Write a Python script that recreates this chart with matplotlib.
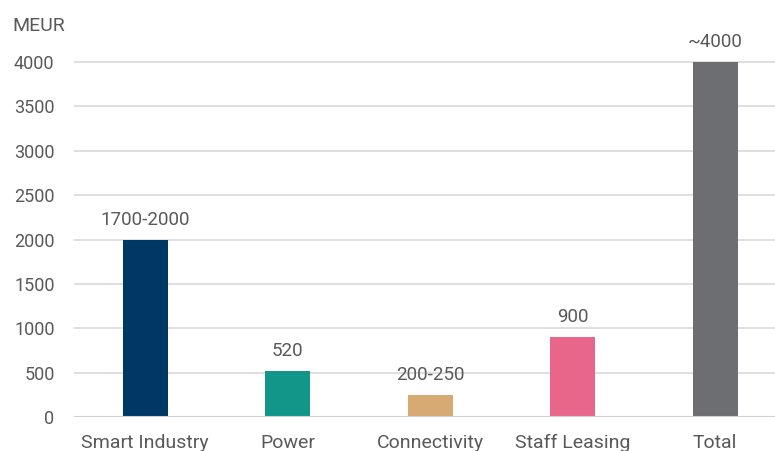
import matplotlib.pyplot as plt
from matplotlib import font_manager

# Revenue by business area (MEUR)
categories = ["Smart Industry", "Power", "Connectivity", "Staff Leasing", "Total"]
values = [2000, 520, 250, 900, 4000]
value_labels = ["1700-2000", "520", "200-250", "900", "~4000"]
colors = ["#003865", "#13968A", "#D8AA73", "#E8668A", "#6D6E71"]
yticks = [0, 500, 1000, 1500, 2000, 2500, 3000, 3500, 4000]

names = {f.name for f in font_manager.fontManager.ttflist}
cat_font = "Liberation Sans Narrow" if "Liberation Sans Narrow" in names else "Roboto"
text_color = "#595959"

fig = plt.figure(figsize=(7.75, 4.51), dpi=100)
ax = fig.add_axes([74 / 775, 34 / 451, 701 / 775, (417 - 57.6) / 451])

x = range(len(categories))
ax.bar(x, values, width=0.315, color=colors, zorder=3)

for xi, v, lab in zip(x, values, value_labels):
    ax.text(xi, v + 120, lab, ha="center", va="bottom", fontsize=13.5,
            color=text_color, family="Roboto", clip_on=False)

ax.set_xlim(-0.5, 4.42)
ax.set_ylim(0, 4050)
ax.set_yticks(yticks)
ax.set_xticks(list(x))
ax.set_xticklabels(categories, fontsize=14, color=text_color, family=cat_font)
for t in ax.get_yticklabels():
    t.set_fontsize(13)
    t.set_color(text_color)
    t.set_family("Roboto")
ax.tick_params(axis="y", length=0, pad=14)
ax.tick_params(axis="x", length=0, pad=12)

ax.grid(axis="y", color="#D9D9D9", linewidth=1.2, zorder=0)
for s in ax.spines.values():
    s.set_visible(False)
ax.axhline(0, color="#D0D0D0", linewidth=1.5, zorder=4)

fig.text(12 / 775, 1 - 26 / 451, "MEUR", fontsize=14, color=text_color,
         family="Roboto", va="center", ha="left")

fig.savefig("out.png", dpi=100)
